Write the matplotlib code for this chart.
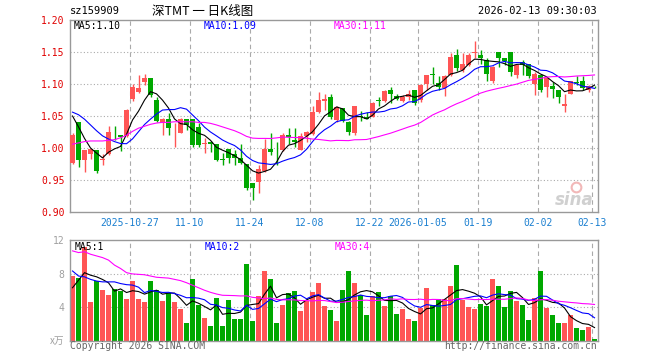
import numpy as np
import pandas as pd
import matplotlib
matplotlib.use('Agg')
import matplotlib.pyplot as plt

# ---- daily K-line data ----
opens = [0.977, 1.040, 0.981, 0.991, 0.997, 0.981, 0.990, 1.024, 1.020, 1.018,
         1.077, 1.088, 1.103, 1.109, 1.075, 1.039, 1.046, 1.023, 1.024, 1.045,
         1.045, 1.033, 1.007, 1.010, 1.007, 0.983, 0.998, 0.990, 0.985, 0.975,
         0.945, 0.947, 0.964, 0.998, 0.994, 0.997, 1.021, 1.012, 0.997, 1.019,
         1.022, 1.057, 1.074, 1.079, 1.043, 1.062, 1.040, 1.023, 1.050, 1.048,
         1.049, 1.075, 1.074, 1.091, 1.081, 1.074, 1.080, 1.091, 1.075, 1.100,
         1.115, 1.101, 1.094, 1.114, 1.145, 1.122, 1.130, 1.149, 1.145, 1.138,
         1.104, 1.150, 1.141, 1.150, 1.114, 1.135, 1.132, 1.100, 1.114, 1.096,
         1.097, 1.091, 1.065, 1.085, 1.103, 1.104, 1.091, 1.096]
highs = [1.024, 1.040, 0.997, 0.999, 0.997, 0.990, 1.034, 1.034, 1.021, 1.061,
         1.100, 1.114, 1.116, 1.109, 1.080, 1.047, 1.055, 1.039, 1.047, 1.046,
         1.045, 1.039, 1.015, 1.011, 1.007, 0.992, 0.999, 0.997, 1.007, 0.975,
         0.946, 0.973, 1.014, 1.023, 1.010, 1.023, 1.031, 1.031, 1.024, 1.027,
         1.065, 1.087, 1.085, 1.084, 1.066, 1.063, 1.042, 1.066, 1.058, 1.057,
         1.072, 1.079, 1.091, 1.096, 1.085, 1.083, 1.090, 1.091, 1.100, 1.114,
         1.126, 1.112, 1.114, 1.148, 1.155, 1.148, 1.148, 1.167, 1.153, 1.140,
         1.128, 1.150, 1.141, 1.150, 1.132, 1.138, 1.132, 1.118, 1.115, 1.111,
         1.103, 1.091, 1.085, 1.104, 1.112, 1.112, 1.099, 1.097]
lows = [0.975, 0.970, 0.963, 0.983, 0.961, 0.973, 0.989, 1.013, 0.995, 1.017,
        1.074, 1.086, 1.099, 1.079, 1.041, 1.020, 1.020, 1.002, 1.023, 1.028,
        1.002, 1.001, 0.992, 0.994, 0.979, 0.973, 0.976, 0.973, 0.975, 0.934,
        0.919, 0.930, 0.962, 0.989, 0.973, 0.995, 1.006, 1.002, 0.997, 1.010,
        1.020, 1.054, 1.059, 1.046, 1.041, 1.040, 1.020, 1.021, 1.042, 1.045,
        1.048, 1.065, 1.072, 1.070, 1.075, 1.072, 1.075, 1.067, 1.072, 1.091,
        1.100, 1.091, 1.081, 1.113, 1.120, 1.118, 1.128, 1.140, 1.132, 1.105,
        1.102, 1.126, 1.130, 1.113, 1.109, 1.114, 1.109, 1.083, 1.088, 1.079,
        1.078, 1.070, 1.057, 1.084, 1.099, 1.091, 1.087, 1.094]
closes = [1.020, 0.981, 0.997, 0.998, 0.964, 0.983, 1.025, 1.023, 1.017, 1.059,
          1.095, 1.094, 1.109, 1.083, 1.042, 1.046, 1.032, 1.024, 1.046, 1.036,
          1.004, 1.005, 1.008, 1.007, 0.981, 0.982, 0.985, 0.985, 0.976, 0.938,
          0.938, 0.967, 0.998, 0.993, 0.993, 1.021, 1.017, 1.010, 1.018, 1.025,
          1.057, 1.075, 1.076, 1.049, 1.064, 1.042, 1.025, 1.065, 1.049, 1.046,
          1.071, 1.074, 1.089, 1.085, 1.077, 1.079, 1.084, 1.071, 1.099, 1.114,
          1.114, 1.096, 1.112, 1.142, 1.125, 1.132, 1.145, 1.150, 1.140, 1.115,
          1.127, 1.141, 1.136, 1.119, 1.130, 1.130, 1.112, 1.115, 1.091, 1.109,
          1.092, 1.080, 1.068, 1.104, 1.102, 1.093, 1.097, 1.095]
# volume in 万
volumes = [7.68, 7.48, 11.16, 4.56, 7.16, 6.08, 5.48, 6.20, 5.88, 5.00,
           7.16, 5.00, 4.64, 7.16, 6.08, 4.76, 5.68, 4.64, 3.80, 2.12,
           7.40, 4.28, 2.72, 1.76, 5.12, 1.76, 4.88, 2.60, 2.60, 9.08,
           2.36, 5.36, 8.24, 7.40, 2.12, 4.28, 5.72, 5.96, 3.56, 4.76,
           5.84, 6.90, 4.16, 3.60, 2.36, 6.08, 8.24, 6.92, 5.48, 3.08,
           5.36, 5.84, 4.16, 5.36, 3.20, 3.80, 2.60, 2.36, 3.90, 6.32,
           4.28, 5.00, 5.00, 6.56, 8.96, 4.88, 4.04, 3.80, 4.40, 4.16,
           7.40, 6.56, 4.04, 5.96, 4.76, 4.28, 2.48, 5.12, 8.24, 3.92,
           3.00, 2.12, 2.12, 3.08, 1.52, 1.28, 1.64, 0.20]

# moving-average values at the left edge (history before the window)
ma5_head = [1.050, 1.033, 1.015, 1.000]
ma10_head = [1.056, 1.052, 1.045, 1.036, 1.027, 1.019, 1.014, 1.010, 1.007]
ma30_head = [1.006, 1.008, 1.010, 1.011, 1.011, 1.011, 1.012, 1.013, 1.016, 1.020,
             1.026, 1.031, 1.034, 1.037, 1.039, 1.040, 1.040, 1.041, 1.041, 1.041,
             1.041, 1.040, 1.040, 1.0385, 1.036, 1.033, 1.030, 1.027, 1.023]
vma5_head = [6.3, 7.2, 8.1, 7.8]
vma10_head = [8.3, 7.7, 7.6, 7.3, 7.1, 7.0, 7.0, 7.0, 6.8]
vma30_head = [10.7, 10.5, 10.6, 10.3, 10.1, 9.9, 9.6, 9.0, 8.6, 8.1,
              7.95, 7.9, 7.85, 7.7, 7.55, 7.5, 7.45, 7.3, 7.15, 6.9,
              6.6, 6.3, 6.0, 5.75, 5.55, 5.4, 5.38, 5.36, 5.32]

tick_idx = [10, 20, 30, 40, 50, 58, 68, 78, 87]
tick_labels = ['2025-10-27', '11-10', '11-24', '12-08', '12-22',
               '2026-01-05', '01-19', '02-02', '02-13']
price_ticks = [0.90, 0.95, 1.00, 1.05, 1.10, 1.15, 1.20]
vol_ticks = [4, 8, 12]

code = 'sz159909'
title = '深TMT 一 日K线图'
stamp = '2026-02-13 09:30:03'
price_ma_text = ['MA5:1.10', 'MA10:1.09', 'MA30:1.11']
vol_ma_text = ['MA5:1', 'MA10:2', 'MA30:4']

RED = '#ff5555'
GREEN = '#00a800'
MA_COLORS = ['black', '#0000ff', '#ff00ff']
GRID = '#aaaaaa'
MONO = 'DejaVu Sans Mono'


def moving(values, n, head):
    out = pd.Series(values).rolling(n).mean().to_numpy()
    out[:len(head)] = head
    return out


o = np.array(opens); h = np.array(highs); l = np.array(lows); c = np.array(closes)
v = np.array(volumes)
n = len(c)
x = np.arange(n) + 0.42
up = c >= o
colors = np.where(up, RED, GREEN)

fig = plt.figure(figsize=(6.6, 3.6), dpi=100)
W, H = 660, 360
axp = fig.add_axes([70 / W, 1 - 212 / H, 528 / W, 192 / H])
axv = fig.add_axes([70 / W, 1 - 340.5 / H, 528 / W, 100.5 / H])

# ---- price panel ----
axp.vlines(x, l, h, colors=colors, linewidth=1, zorder=2)
body = np.maximum(np.abs(c - o), 0.0009)
axp.bar(x, body, bottom=np.minimum(o, c), width=0.83, color=colors,
        linewidth=0, zorder=3)
for ma, col in zip([moving(c, 5, ma5_head), moving(c, 10, ma10_head),
                    moving(c, 30, ma30_head)], MA_COLORS):
    axp.plot(x, ma, color=col, linewidth=0.8, zorder=4)

axp.set_xlim(0, n)
axp.set_ylim(0.90, 1.20)
axp.set_yticks(price_ticks)
axp.set_yticklabels(['%.2f' % t for t in price_ticks], color='#e00000',
                    fontfamily=MONO, fontsize=7)
axp.set_xticks(tick_idx)
axp.set_xticklabels(tick_labels, color='#1a7fd0', fontfamily=MONO, fontsize=7)
axp.tick_params(length=0, pad=4)
for t in price_ticks[1:-1]:
    axp.axhline(t, color=GRID, linestyle=(0, (1, 2)), linewidth=0.8, zorder=1)
for t in tick_idx:
    axp.axvline(t, color=GRID, linestyle=(0, (4, 3)), linewidth=0.8, zorder=1)

for xp, txt, col in zip([74, 204, 334], price_ma_text, MA_COLORS):
    fig.text(xp / W, 1 - 26 / H, txt, color=col, fontfamily=MONO, fontsize=7,
             va='center', ha='left')

# sina watermark
axp.plot([0.958], [0.13], transform=axp.transAxes, marker='o', markersize=7,
         markerfacecolor='none', markeredgecolor='#f2b8b8', markeredgewidth=1.5,
         zorder=0)
axp.text(0.955, 0.065, 'sina', transform=axp.transAxes, fontsize=12,
         fontweight='bold', style='italic', color='#d0d0d0', ha='center',
         va='center', zorder=0)

# ---- volume panel ----
axv.bar(x, v, width=0.83, color=colors, linewidth=0, zorder=2)
for ma, col in zip([moving(v, 5, vma5_head), moving(v, 10, vma10_head),
                    moving(v, 30, vma30_head)], MA_COLORS):
    axv.plot(x, ma, color=col, linewidth=0.8, zorder=4)
axv.set_xlim(0, n)
axv.set_ylim(0, 12)
axv.set_yticks(vol_ticks)
axv.set_yticklabels([str(t) for t in vol_ticks], color='#a0a0a0',
                    fontfamily=MONO, fontsize=7)
axv.set_xticks([])
axv.tick_params(length=0, pad=4)
for t in vol_ticks[:-1]:
    axv.axhline(t, color=GRID, linestyle=(0, (1, 2)), linewidth=0.8, zorder=1)
for t in tick_idx:
    axv.axvline(t, color=GRID, linestyle=(0, (4, 3)), linewidth=0.8, zorder=1)
axv.text(-0.01, 0, 'x万', transform=axv.transAxes, ha='right', va='center',
         color='#a0a0a0', fontsize=7, style='italic',
         fontfamily=['Noto Sans CJK SC', 'DejaVu Sans'])

for xp, txt, col in zip([75, 205, 335], vol_ma_text, MA_COLORS):
    fig.text(xp / W, 1 - 247 / H, txt, color=col, fontfamily=MONO, fontsize=7,
             va='center', ha='left')

for ax in (axp, axv):
    for s in ax.spines.values():
        s.set_color('#999999')
        s.set_linewidth(1)

# ---- header / footer ----
fig.text(70 / W, 1 - 11 / H, code, fontfamily=MONO, fontsize=7.5,
         va='center', ha='left')
fig.text(203 / W, 1 - 11 / H, title, fontsize=9, va='center', ha='center',
         fontfamily=['Noto Sans CJK SC', 'DejaVu Sans'])
fig.text(597 / W, 1 - 11 / H, stamp, fontfamily=MONO, fontsize=7.5,
         va='center', ha='right')
fig.text(70 / W, 1 - 346 / H, 'Copyright 2026 SINA.COM', fontfamily=MONO,
         fontsize=7, color='#666666', va='center', ha='left')
fig.text(597 / W, 1 - 346 / H, 'http://finance.sina.com.cn', fontfamily=MONO,
         fontsize=7, color='#666666', va='center', ha='right')

fig.savefig('out.png', dpi=100, facecolor='white')
